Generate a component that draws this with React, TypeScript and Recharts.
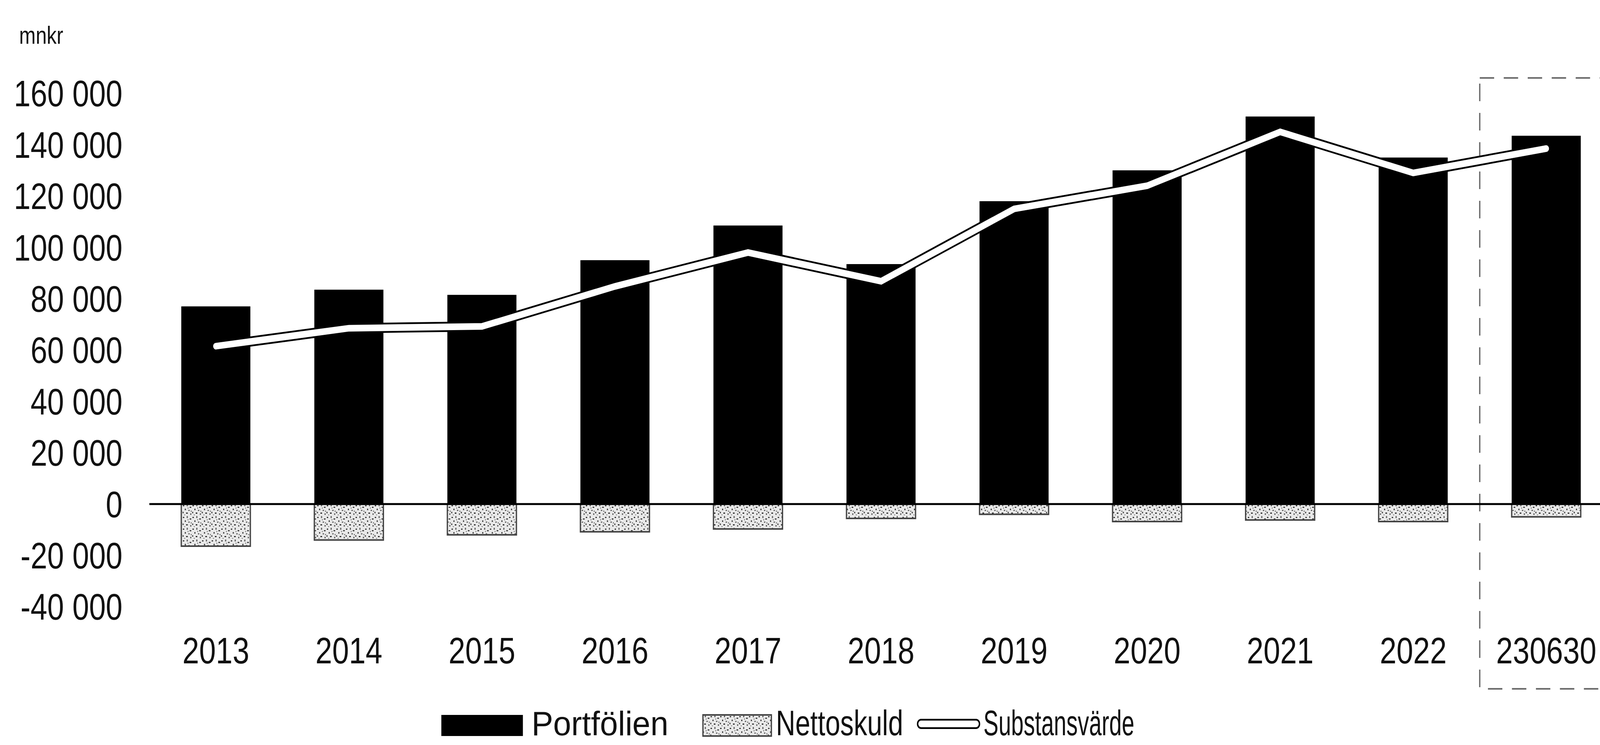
import React from 'react'
import { ComposedChart, Bar, Line, XAxis, YAxis, ReferenceLine, ReferenceArea } from 'recharts'

const categories = ['2013', '2014', '2015', '2016', '2017', '2018', '2019', '2020', '2021', '2022', '230630']
const portfolio = [77000, 83500, 81500, 95000, 108500, 93500, 118000, 130000, 151000, 135000, 143500]
const nettoskuld = [-16400, -14000, -12000, -10800, -9700, -5600, -4000, -6800, -6200, -6800, -5000]
const substans = [61500, 68500, 69200, 84800, 98000, 86800, 115000, 124000, 145000, 129000, 138500]
const yTicks = [-40000, -20000, 0, 20000, 40000, 60000, 80000, 100000, 120000, 140000, 160000]

const data = categories.map((year, i) => ({
  year,
  portfolio: portfolio[i],
  nettoskuld: nettoskuld[i],
  substans: substans[i],
}))

const W = 5003
const H = 1907
const FONT = "'Liberation Sans', Arial, sans-serif"

const formatTick = (v: number) => {
  const s = Math.abs(v).toString().replace(/\B(?=(\d{3})+(?!\d))/g, ' ')
  return v < 0 ? '-' + s : s
}

// speckled fill used for the net debt bars
const Speckle = ({ id }: { id: string }) => (
  <pattern id={id} width="30" height="30" patternUnits="userSpaceOnUse">
    <rect width="30" height="30" fill="#e9e9e9" />
    <rect x="2" y="3" width="4" height="3" fill="#222" />
    <rect x="14" y="1" width="3" height="5" fill="#444" />
    <rect x="23" y="7" width="5" height="3" fill="#333" />
    <rect x="8" y="12" width="3" height="4" fill="#222" />
    <rect x="19" y="15" width="4" height="3" fill="#555" />
    <rect x="1" y="20" width="3" height="4" fill="#333" />
    <rect x="12" y="22" width="5" height="3" fill="#222" />
    <rect x="25" y="24" width="3" height="4" fill="#444" />
    <rect x="6" y="27" width="3" height="2" fill="#666" />
    <rect x="17" y="9" width="2" height="3" fill="#555" />
    <rect x="27" y="17" width="2" height="3" fill="#333" />
  </pattern>
)

const App = () => {
  // the window can come out narrower than the design width, so squeeze to fit
  const vw = typeof window !== 'undefined' ? window.innerWidth : W
  const sx = Math.min(1, vw / W)

  return (
    <div style={{ width: Math.round(W * sx), height: H, overflow: 'hidden', background: '#fff' }}>
      <style>{'body{margin:0}'}</style>
      <div
        style={{
          position: 'relative',
          width: W,
          height: H,
          overflow: 'hidden',
          transform: `scale(${sx}, 1)`,
          transformOrigin: '0 0',
        }}
      >
        <ComposedChart
          width={5050}
          height={1800}
          data={data}
          stackOffset="sign"
          barCategoryGap="24%"
          margin={{ top: 239, right: 7, left: 0, bottom: 0 }}
        >
          <defs>
            <Speckle id="speckle" />
          </defs>
          <XAxis
            dataKey="year"
            height={247}
            axisLine={false}
            tickLine={false}
            tickSize={0}
            tickMargin={78}
            interval={0}
            tick={{ fontSize: 94, fill: '#111', fontFamily: FONT }}
          />
          <YAxis
            width={467}
            domain={[-40000, 160000]}
            ticks={yTicks}
            interval={0}
            axisLine={false}
            tickLine={false}
            tickSize={0}
            tickMargin={84}
            tickFormatter={formatTick}
            tick={{ fontSize: 94, fill: '#111', fontFamily: FONT }}
          />
          <Bar dataKey="portfolio" stackId="a" fill="#000" isAnimationActive={false} />
          <Bar dataKey="nettoskuld" stackId="a" fill="url(#speckle)" stroke="#444" strokeWidth={4} isAnimationActive={false} />
          <ReferenceLine y={0} stroke="#000" strokeWidth={5} />
          <ReferenceArea
            x1="230630"
            x2="230630"
            y1={-72000}
            y2={166000}
            fill="none"
            stroke="#666"
            strokeWidth={4}
            strokeDasharray="45 30"
            ifOverflow="visible"
          />
          <Line type="linear" dataKey="substans" stroke="#000" strokeWidth={26} dot={false} isAnimationActive={false} />
          <Line type="linear" dataKey="substans" stroke="#fff" strokeWidth={17} strokeLinecap="round" dot={false} isAnimationActive={false} />
        </ComposedChart>

        <svg width={W} height={H} style={{ position: 'absolute', left: 0, top: 0, pointerEvents: 'none' }}>
          <defs>
            <Speckle id="speckle-legend" />
          </defs>
          <text x={60} y={112} fontSize={62} fontFamily={FONT} fill="#111">mnkr</text>

          <rect x={1380} y={1830} width={255} height={54} fill="#000" />
          <text x={1662} y={1882} fontSize={88} fontFamily={FONT} fill="#111" textLength={428} lengthAdjust="spacingAndGlyphs">Portfölien</text>

          <rect x={2198} y={1830} width={214} height={54} fill="url(#speckle-legend)" stroke="#444" strokeWidth={4} />
          <text x={2426} y={1882} fontSize={90} fontFamily={FONT} fill="#111" textLength={398} lengthAdjust="spacingAndGlyphs">Nettoskuld</text>

          <line x1={2880} y1={1853} x2={3052} y2={1853} stroke="#000" strokeWidth={26} strokeLinecap="round" />
          <line x1={2880} y1={1853} x2={3052} y2={1853} stroke="#fff" strokeWidth={17} strokeLinecap="round" />
          <text x={3075} y={1882} fontSize={90} fontFamily={FONT} fill="#111" textLength={472} lengthAdjust="spacingAndGlyphs">Substansvärde</text>
        </svg>
      </div>
    </div>
  )
}

export default App
